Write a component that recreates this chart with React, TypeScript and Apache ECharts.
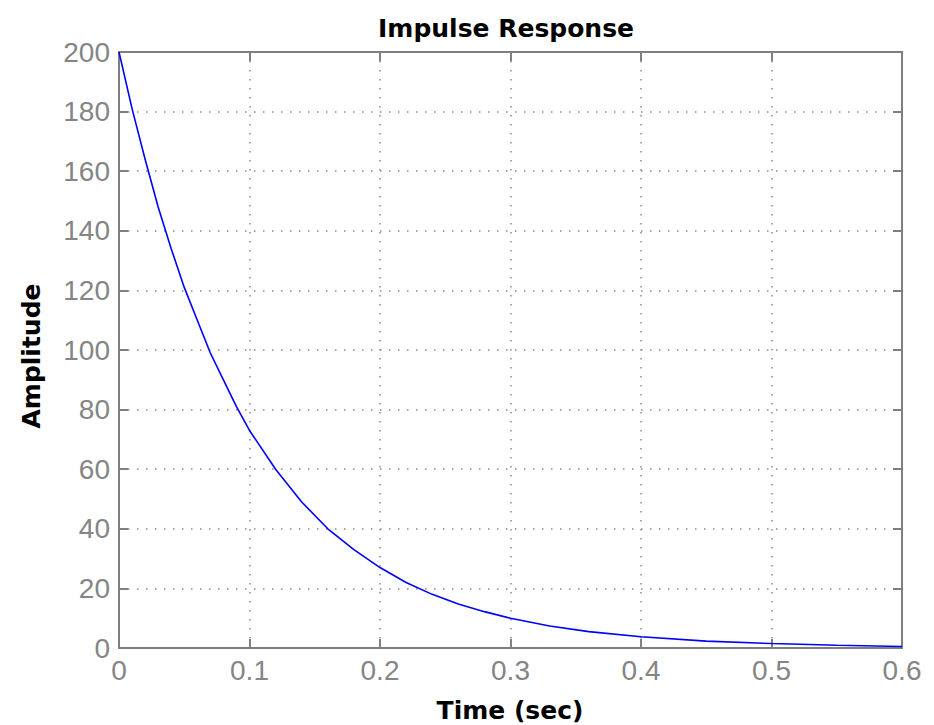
import React, { useEffect, useRef } from "react";
import * as echarts from "echarts";

// Impulse response samples: time (s) and amplitude
const timeSec = [0, 0.01, 0.02, 0.03, 0.04, 0.05, 0.06, 0.07, 0.08, 0.09, 0.1, 0.12, 0.14, 0.16, 0.18, 0.2, 0.22, 0.24, 0.26, 0.28, 0.3, 0.33, 0.36, 0.4, 0.45, 0.5, 0.55, 0.6];
const amplitude = [200, 181, 164, 148, 134, 121, 110, 99, 90, 81, 73, 60, 49, 40, 33, 27, 22, 18, 14.8, 12.2, 10, 7.4, 5.5, 3.8, 2.3, 1.5, 0.9, 0.5];

const xTicks = { min: 0, max: 0.6, interval: 0.1 };
const yTicks = { min: 0, max: 200, interval: 20 };

const titleText = "Impulse Response";
const xLabelText = "Time (sec)";
const yLabelText = "Amplitude";

const AXIS_GRAY = "#7f7f7f";
const LABEL_GRAY = "#858585";
const GRID_GRAY = "#8c8c8c";

export default function App() {
  const ref = useRef<HTMLDivElement>(null);

  useEffect(() => {
    if (!ref.current) return;
    const chart = echarts.init(ref.current, null, { renderer: "svg" });

    const axisLine = { show: true, onZero: false, lineStyle: { color: AXIS_GRAY, width: 2 } };
    const innerTick = { show: true, inside: true, length: 9, lineStyle: { color: AXIS_GRAY, width: 2 } };
    const dotted = { show: true, lineStyle: { color: GRID_GRAY, width: 1.5, type: [1.5, 7.5] as any } };
    const tickFont = { color: LABEL_GRAY, fontSize: 28, fontFamily: "Liberation Sans" };

    chart.setOption({
      animation: false,
      backgroundColor: "#ffffff",
      grid: { left: 119, right: 32, top: 52, bottom: 77, containLabel: false },
      xAxis: [
        {
          type: "value",
          position: "bottom",
          ...xTicks,
          axisLine,
          axisTick: innerTick,
          splitLine: dotted,
          axisLabel: {
            ...tickFont,
            margin: 8,
            formatter: (v: number) => (v === 0 ? "0" : String(Math.round(v * 10) / 10)),
          },
        },
        {
          type: "value",
          position: "top",
          ...xTicks,
          axisLine,
          axisTick: innerTick,
          splitLine: { show: false },
          axisLabel: { show: false },
        },
      ],
      yAxis: [
        {
          type: "value",
          position: "left",
          ...yTicks,
          axisLine,
          axisTick: innerTick,
          splitLine: dotted,
          axisLabel: { ...tickFont, margin: 9 },
        },
        {
          type: "value",
          position: "right",
          ...yTicks,
          axisLine,
          axisTick: innerTick,
          splitLine: { show: false },
          axisLabel: { show: false },
        },
      ],
      series: [
        {
          type: "line",
          xAxisIndex: 0,
          yAxisIndex: 0,
          data: timeSec.map((t, i) => [t, amplitude[i]]),
          showSymbol: false,
          smooth: false,
          lineStyle: { color: "#0000ff", width: 1.6 },
          clip: true,
        },
      ],
      graphic: [
        {
          type: "text",
          x: 506,
          y: 28,
          style: {
            text: titleText,
            fontSize: 25,
            fontWeight: "bold",
            fontFamily: "DejaVu Sans",
            fill: "#000000",
            textAlign: "center",
            textVerticalAlign: "middle",
          },
        },
        {
          type: "text",
          x: 510,
          y: 710,
          style: {
            text: xLabelText,
            fontSize: 25,
            fontWeight: "bold",
            fontFamily: "DejaVu Sans",
            fill: "#000000",
            textAlign: "center",
            textVerticalAlign: "middle",
          },
        },
        {
          type: "text",
          x: 31,
          y: 356,
          rotation: Math.PI / 2,
          style: {
            text: yLabelText,
            fontSize: 25,
            fontWeight: "bold",
            fontFamily: "DejaVu Sans",
            fill: "#000000",
            textAlign: "center",
            textVerticalAlign: "middle",
          },
        },
      ],
    });

    return () => chart.dispose();
  }, []);

  return (
    <div
      ref={ref}
      style={{ position: "fixed", left: 0, top: 0, width: 934, height: 725, background: "#fff" }}
    />
  );
}
